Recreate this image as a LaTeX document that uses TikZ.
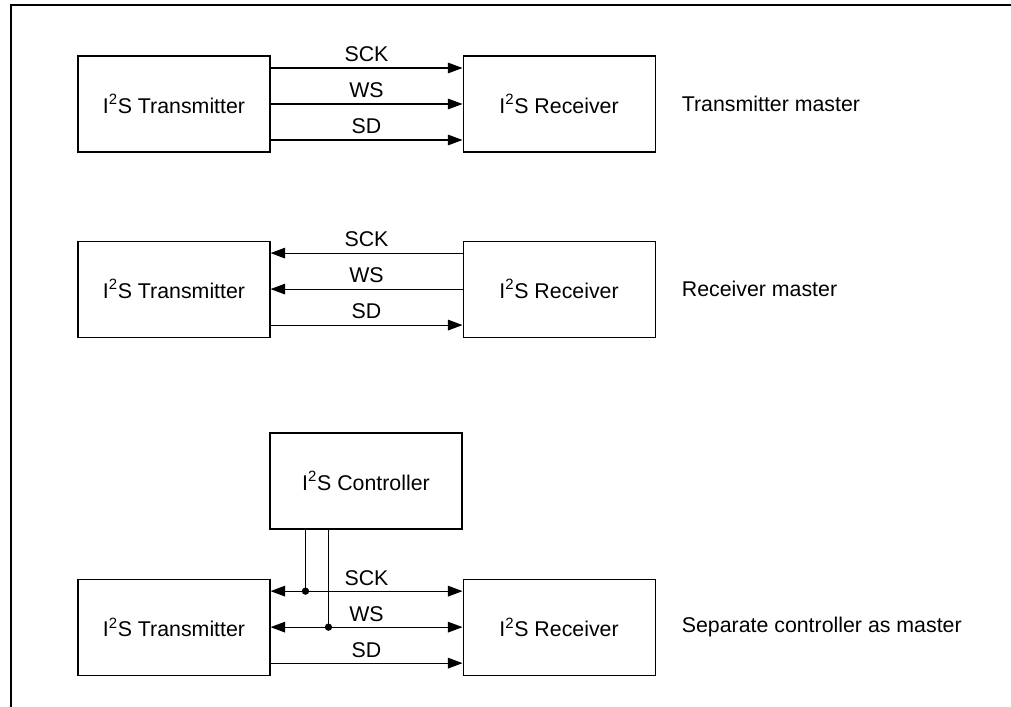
\documentclass[tikz,border=0pt]{standalone}
\usepackage{fontspec}
\setmainfont{Liberation Sans}
\usetikzlibrary{positioning,arrows.meta}

\begin{document}
\begin{tikzpicture}[
  x=0.75pt, y=-0.75pt,
  box/.style={rectangle, draw, line width=0.8pt, minimum width=144pt, minimum height=72pt, inner sep=0pt, font=\fontsize{16}{19}\selectfont},
  sig/.style={line width=0.8pt},
  lbl/.style={midway, above, inner sep=4pt, font=\fontsize{16}{19}\selectfont},
  note/.style={inner sep=0pt, font=\fontsize{16}{19}\selectfont},
  dot/.style={circle, fill, inner sep=0pt, minimum size=5.5pt},
  frm/.style={line width=1.6pt},
  >={Triangle[length=11pt,width=8pt]}
]

\useasboundingbox (0,0) rectangle (1011,707);
\draw[frm] (11,707) -- (11,5) -- (1011,5);

% transmitter master
\node[box] (tx1) at (174,104) {I\textsuperscript{2}S Transmitter};
\node[box, right=144pt of tx1] (rx1) {I\textsuperscript{2}S Receiver};
\node[note, right=19.5pt of rx1] (m1) {Transmitter master};

\draw[sig,->] ([yshift=27pt]tx1.east) -- ([yshift=27pt]rx1.west) node[lbl] {SCK};
\draw[sig,->] (tx1.east) -- (rx1.west) node[lbl] {WS};
\draw[sig,->] ([yshift=-27pt]tx1.east) -- ([yshift=-27pt]rx1.west) node[lbl] {SD};

% receiver master
\node[box, below=66pt of tx1] (tx2) {I\textsuperscript{2}S Transmitter};
\node[box, right=144pt of tx2] (rx2) {I\textsuperscript{2}S Receiver};
\node[note, right=19.5pt of rx2] (m2) {Receiver master};

\draw[sig,<-] ([yshift=27pt]tx2.east) -- ([yshift=27pt]rx2.west) node[lbl] {SCK};
\draw[sig,<-] (tx2.east) -- (rx2.west) node[lbl] {WS};
\draw[sig,->] ([yshift=-27pt]tx2.east) -- ([yshift=-27pt]rx2.west) node[lbl] {SD};

% separate controller
\node[box, below=180.75pt of tx2] (tx3) {I\textsuperscript{2}S Transmitter};
\node[box, right=144pt of tx3] (rx3) {I\textsuperscript{2}S Receiver};
\node[note, right=19.5pt of rx3] (m3) {Separate controller as master};
\node[box] (ctrl) at (366,481) {I\textsuperscript{2}S Controller};

\draw[sig,<->] ([yshift=27pt]tx3.east) coordinate (sck3) -- ([yshift=27pt]rx3.west) node[lbl] {SCK};
\draw[sig,<->] (tx3.east) coordinate (ws3) -- (rx3.west) node[lbl] {WS};
\draw[sig,->] ([yshift=-27pt]tx3.east) -- ([yshift=-27pt]rx3.west) node[lbl] {SD};

\coordinate (c1) at ([xshift=27pt]ctrl.south west);
\coordinate (c2) at ([xshift=44.25pt]ctrl.south west);
\node[dot] (d1) at (c1 |- sck3) {};
\node[dot] (d2) at (c2 |- ws3) {};
\draw[sig] (c1) -- (d1.center);
\draw[sig] (c2) -- (d2.center);

\end{tikzpicture}
\end{document}
